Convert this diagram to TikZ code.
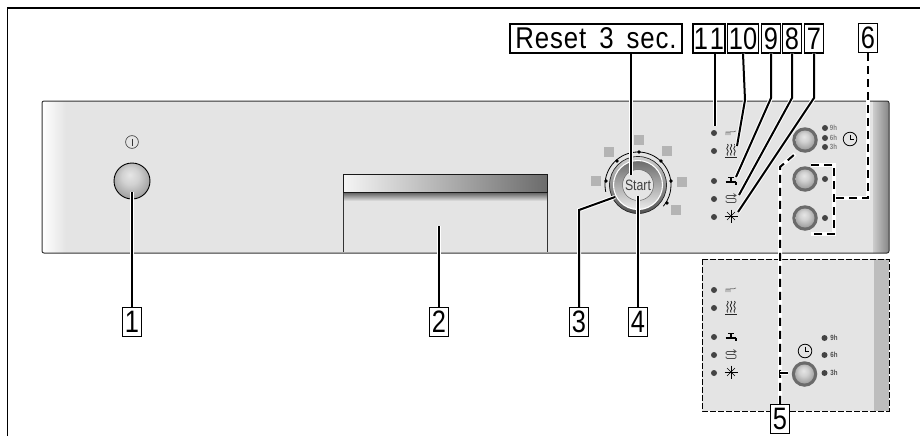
\documentclass[tikz,border=0pt]{standalone}
\usepackage{fontspec}
\setmainfont{Liberation Sans}
\newfontfamily\labfont[FakeStretch=0.82]{Liberation Sans}
\newfontfamily\resetfont[FakeStretch=0.86,LetterSpace=3,WordSpace=1.6]{Liberation Sans}
\usetikzlibrary{calc}
\definecolor{panelgray}{HTML}{E4E4E4}
\definecolor{stripgray}{HTML}{BDBDBD}
\definecolor{ledgray}{HTML}{444444}
\definecolor{squaregray}{HTML}{B4B4B4}
\pgfdeclareradialshading{knobshade}{\pgfpoint{-3bp}{9bp}}{color(0bp)=(white!90!black);color(12bp)=(white!82!black);color(30bp)=(white!60!black);color(50bp)=(white!42!black)}
\tikzset{
  x=1pt,y=-1pt,
  callout/.style={draw=black,fill=white,line width=1.5pt,inner sep=0pt,minimum height=29pt,font=\labfont\fontsize{31}{31}\selectfont},
  conn/.style={draw=black,line width=2pt,preaction={draw=white,line width=4pt,solid}},
  dashconn/.style={draw=black,line width=2pt,dash pattern=on 8pt off 5pt,preaction={draw=white,line width=4pt,solid}},
  led/.style={circle,fill=ledgray,draw=none,inner sep=0pt,minimum size=6pt},
  dialdot/.style={circle,fill=black,draw=none,inner sep=0pt,minimum size=3.8pt},
  dialsq/.style={fill=squaregray,draw=none,inner sep=0pt,minimum size=10pt},
  knob/.style={circle,draw=none,inner sep=0pt,shading=knobshade,minimum size=19pt},
  knobring/.style={circle,fill=white!42!black,draw=none,inner sep=0pt,minimum size=25.5pt},
  hourtext/.style={inner sep=0pt,font=\labfont\fontsize{7.5}{8}\bfseries\selectfont},
  icon/.style={line width=.8pt,black!85},
  pics/rinseicon/.style={code={
    \draw[line width=.7pt,black!55] (-5,2)--(-5,-1)--(-1,-1) (-3,2)--(-3,-1) (-1,2)--(-1,-1) (-1,-1.3)--(3,-1.3)--(5,-2);}},
  pics/heaticon/.style={code={
    \foreach \dx in {-3.5,0,3.5}{\draw[icon] (\dx,-7) .. controls (\dx+2.5,-5) and (\dx-2.5,-3) .. (\dx,-1) .. controls (\dx+2.5,.5) and (\dx-2,2.5) .. (\dx,4.5);}
    \draw[icon] (-6,6)--(6,6);}},
  pics/tapicon/.style={code={
    \draw[line width=2pt,black] (-5.5,0.8)--(5,0.8);
    \draw[line width=2pt,black] (4.5,0.8)--(4.5,3.8);
    \draw[line width=1.2pt,black] (0,0)--(0,-3.5) (-3,-3.5)--(3,-3.5);}},
  pics/loopicon/.style={code={
    \draw[line width=.7pt,black!70,rounded corners=1.2pt] (4,-3.5)--(-5,-3.5)--(-5,-.5)--(5,-.5)--(5,3.5)--(-5,3.5)--(-5,1.5);
    \draw[line width=.7pt,black!70] (2.5,-5.5)--(5,-3.5)--(2.5,-1.8);}},
  pics/staricon/.style={code={
    \foreach \a in {45,135,225,315}{\draw[line width=.6pt,black] (0,0)--(\a:5.6pt);}
    \draw[line width=.7pt,black] (-6.5,0)--(6.5,0) (0,-6.5)--(0,6.5);}},
  pics/clockicon/.style={code={
    \draw[line width=.8pt,black,fill=panelgray] (0,0) circle[radius=6.8pt];
    \draw[line width=.8pt,black] (0,-4.5)--(0,0)--(3.6,0);}}
}
\begin{document}
\begin{tikzpicture}
\useasboundingbox (0,0) rectangle (920,436);
\fill[white] (0,0) rectangle (920,436);
% frame
\draw[line width=1.8pt,black] (7.5,436)--(7.5,8)--(920,8);
% panel
\begin{scope}
\clip[rounded corners=2pt] (42,101) rectangle (889,253);
\fill[panelgray] (42,101) rectangle (889,253);
\shade[left color=white,right color=panelgray] (42,101) rectangle (66,253);
\shade[left color=white!80!black,right color=white!52!black] (873,101) rectangle (889,253);
\end{scope}
\draw[line width=1pt,black!80,rounded corners=2pt] (42,101) rectangle (889,253);
% power
\node[hourtext] (powersym) at (132,142) {};
\draw[line width=.6pt,black!80] (powersym) circle[radius=6.4pt];
\draw[line width=.7pt,black!80] (132,138.5)--(132,145.5);
\node[circle,draw=black,line width=.9pt,inner sep=0pt,minimum size=36pt,shading=knobshade] (power) at (132,181) {};
% display
\shade[left color=white!96!black,right color=white!42!black] (343,174) rectangle (547,192);
\shade[top color=white!35!black,bottom color=panelgray] (343,192) rectangle (547,201);
\draw[line width=.8pt,black!80] (343,192)--(343,252) (547,192)--(547,252);
\draw[line width=.9pt,black!90] (343,174) rectangle (547,192);
\coordinate (displayend) at (439,226);
% dial
\foreach \n/\p in {a/{596,181},b/{609,152},c/{639,140},d/{667,151},e/{682,182},f/{676,210}}{\node[dialsq] (sq\n) at (\p) {};}
\coordinate (dial) at (638,185);
\draw[line width=.8pt,black] ($(dial)+(192:33pt)$) arc[start angle=192,end angle=-40,radius=33pt];
\foreach \n/\p in {a/{606,181},b/{617,161},c/{639,152},d/{661,161},e/{671,181},f/{667,203}}{\node[dialdot] (dot\n) at (\p) {};}
\path[top color=white!82!black,bottom color=white!32!black,draw=black!85,line width=.7pt] (dial) circle[radius=28.5pt];
\path[top color=white!42!black,bottom color=white!92!black,draw=white,line width=1.1pt] (dial) circle[radius=24.5pt];
\node[circle,fill=panelgray,draw=black!60,line width=.5pt,inner sep=0pt,minimum size=31pt,font=\labfont\fontsize{15}{15}\selectfont,text=black!75] (start) at (dial) {Start};
% upper LEDs
\foreach \n/\yy in {a/133,b/151,c/181,d/199,e/217}{\node[led] (up\n) at (714,\yy) {};}
\pic at (731,133) {rinseicon};
\pic at (731,151) {heaticon};
\pic at (731,181) {tapicon};
\pic at (731,199) {loopicon};
\pic at (731,216) {staricon};
% upper buttons
\foreach \n/\yy in {a/140,b/179,c/218}{\node[knobring] (rb\n) at (805,\yy) {};\node[knob] (kb\n) at (805,\yy) {};}
\foreach \yy/\t in {128/9h,138/6h,147/3h}{\node[led] at (825,\yy) {};\node[hourtext,text=black!50] at (833.5,\yy) {\t};}
\node[led] (ledb) at (825,179) {};
\node[led] (ledc) at (825,218) {};
\pic at (850,139) {clockicon};
% lower panel
\fill[panelgray] (702,259) rectangle (889,411);
\fill[stripgray] (874,259) rectangle (889,411);
\draw[line width=.9pt,black,dash pattern=on 6pt off 2pt] (702,259) rectangle (889,411);
\foreach \n/\yy in {a/290,b/308,c/337,d/355,e/373}{\node[led] (lo\n) at (714,\yy) {};}
\pic at (731,290) {rinseicon};
\pic at (731,308) {heaticon};
\pic at (731,337) {tapicon};
\pic at (731,355) {loopicon};
\pic at (731,372) {staricon};
\pic at (805,351) {clockicon};
\node[knobring] (rlow) at (804.5,374) {};
\node[knob] (klow) at (804.5,374) {};
\foreach \yy/\t in {338/9h,355/6h,373/3h}{\node[led] at (824.5,\yy) {};\node[hourtext,text=black!70] at (834,\yy) {\t};}
% callouts
\node[callout,minimum width=172pt,font=\resetfont\fontsize{30}{30}\selectfont] (reset) at (596,38.5) {Reset 3 sec.};
\node[callout,minimum width=32pt] (l11) at (709,38.5) {1\hspace{2pt}1};
\node[callout,minimum width=31pt] (l10) at (743,38.5) {10};
\node[callout,minimum width=19pt] (l9) at (771,38.5) {9};
\node[callout,minimum width=19pt] (l8) at (792,38.5) {8};
\node[callout,minimum width=19pt] (l7) at (814,38.5) {7};
\node[callout,minimum width=19pt] (l6) at (868,38) {6};
\node[callout,minimum width=19pt] (l1) at (132,322) {1};
\node[callout,minimum width=19pt] (l2) at (439,322) {2};
\node[callout,minimum width=19pt] (l3) at (579,322) {3};
\node[callout,minimum width=19pt] (l4) at (638,322) {4};
\node[callout,minimum width=19pt] (l5) at (780,419) {5};
% connector ends
\coordinate (e1) at (132,192);
\coordinate (e3a) at (579,210);
\coordinate (e3b) at (615,197);
\coordinate (e4) at (638,196);
\coordinate (eR) at (631,175);
\coordinate (e11) at (715,126);
\coordinate (b10) at (745,100);
\coordinate (e10) at (737,146);
\coordinate (b9) at (771,98);
\coordinate (e9) at (736,177);
\coordinate (b8) at (792,98);
\coordinate (e8) at (739,195);
\coordinate (b7) at (814,98);
\coordinate (e7) at (738,212);
\coordinate (b6) at (868,198);
\coordinate (j6) at (834,198);
\coordinate (t6a) at (811,165);
\coordinate (t6b) at (834,165);
\coordinate (t6c) at (834,234);
\coordinate (t6d) at (811,234);
\coordinate (b5) at (780,167);
\coordinate (e5) at (795,154);
\coordinate (j5) at (780,373);
\coordinate (f5) at (788,373);
% connectors
\draw[conn] (l1.north) -- (e1);
\draw[conn] (l2.north) -- (displayend);
\draw[conn] (l3.north) -- (e3a) -- (e3b);
\draw[conn] (l4.north) -- (e4);
\draw[conn] (reset.south -| eR) -- (eR);
\draw[conn] (l11.south -| e11) -- (e11);
\draw[conn] (l10.south) -- (b10) -- (e10);
\draw[conn] (l9.south) -- (b9) -- (e9);
\draw[conn] (l8.south) -- (b8) -- (e8);
\draw[conn] (l7.south) -- (b7) -- (e7);
\draw[dashconn] (l6.south) -- (b6) -- (j6);
\draw[dashconn] (t6a) -- (t6b) -- (t6c) -- (t6d);
\draw[dashconn] (l5.north) -- (b5) -- (e5);
\draw[conn,line width=1.6pt] (j5) -- (f5);
\end{tikzpicture}
\end{document}
